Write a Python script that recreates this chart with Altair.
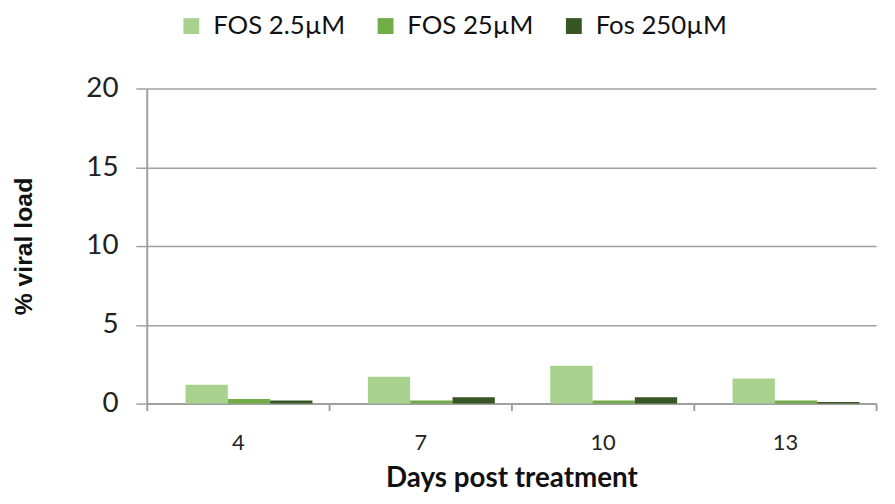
import altair as alt
import pandas as pd

days = ["4", "7", "10", "13"]
series = ["FOS 2.5µM", "FOS 25µM", "Fos 250µM"]
fos_2_5 = [1.2, 1.7, 2.4, 1.6]
fos_25 = [0.3, 0.2, 0.2, 0.2]
fos_250 = [0.2, 0.4, 0.4, 0.1]
colors = ["#a9d18e", "#70ad47", "#375623"]

rows = []
for vals, s in zip([fos_2_5, fos_25, fos_250], series):
    for d, v in zip(days, vals):
        rows.append({"day": d, "series": s, "value": v})
df = pd.DataFrame(rows)

font = "Lato"

chart = alt.Chart(df).mark_bar(stroke=None).encode(
    x=alt.X("day:N", sort=days, title="Days post treatment",
            scale=alt.Scale(paddingInner=0, paddingOuter=0),
            axis=alt.Axis(labelAngle=0, labelPadding=22, tickSize=7, tickBand="extent",
                          tickColor="#a0a0a0", domainColor="#a0a0a0", domainWidth=2,
                          tickWidth=2, labelFontSize=22, titleFontSize=28,
                          titleFontWeight="bold", titlePadding=12, labelFont=font,
                          titleFont=font, labelColor="#222", titleColor="#111")),
    xOffset=alt.XOffset("series:N", sort=series,
                        scale=alt.Scale(paddingInner=0, paddingOuter=0.655, align=0.7)),
    y=alt.Y("value:Q", title="% viral load",
            scale=alt.Scale(domain=[0, 20], nice=False),
            axis=alt.Axis(values=[0, 5, 10, 15, 20], tickSize=11, labelPadding=18,
                          gridColor="#a0a0a0", gridWidth=1.5, tickColor="#a0a0a0",
                          domainColor="#a0a0a0", domainWidth=2, tickWidth=1.5,
                          labelFontSize=28, labelFont=font, labelColor="#222",
                          titleFont="Liberation Sans", titleFontSize=25,
                          titleFontWeight="bold", titlePadding=50, titleColor="#111")),
    color=alt.Color("series:N", sort=series,
                    scale=alt.Scale(domain=series, range=colors),
                    legend=alt.Legend(title=None, orient="none", direction="horizontal",
                                      legendX=32, legendY=-76, symbolType="square",
                                      symbolSize=256, symbolStrokeWidth=0,
                                      labelFontSize=26, labelFont=font, labelColor="#111",
                                      columnPadding=27, labelOffset=9)),
).properties(
    width=736, height=318,
    autosize=alt.AutoSizeParams(type="none"),
    padding={"left": 140, "top": 79, "right": 11, "bottom": 91},
).configure_view(stroke=None).configure_axisY(grid=True).configure_axisX(grid=False)

chart.save("out.html", embed_options={"renderer": "svg", "actions": False})
